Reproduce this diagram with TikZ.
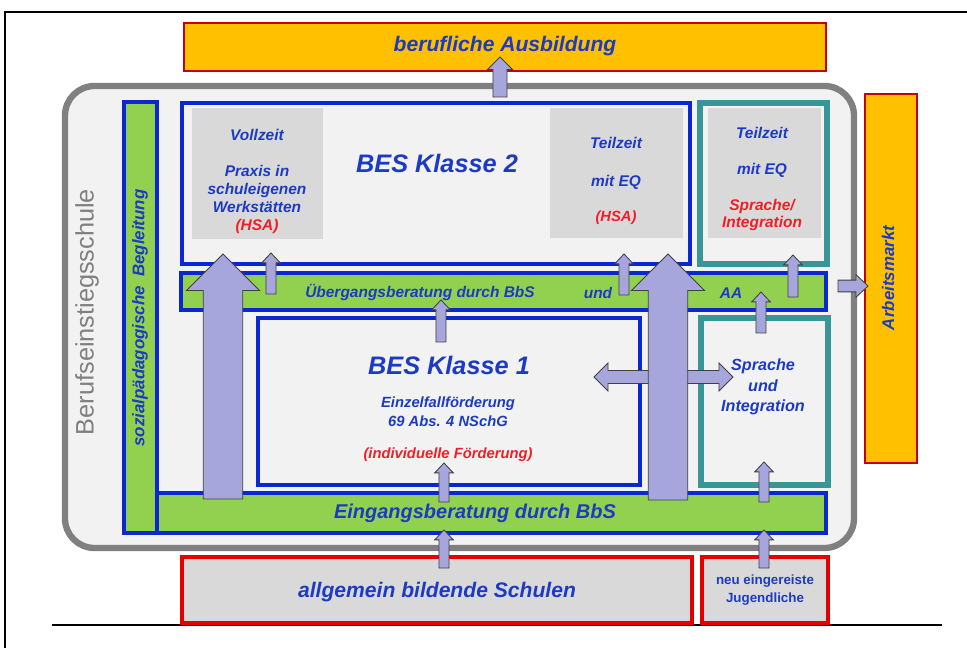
\documentclass[tikz,border=0pt]{standalone}
\usepackage{fontspec}
\setmainfont{Liberation Sans}
\usetikzlibrary{calc,fit}

\definecolor{txtblue}{RGB}{28,58,196}
\definecolor{boxblue}{RGB}{10,40,210}
\definecolor{bargreen}{RGB}{146,208,80}
\definecolor{boxorange}{RGB}{255,192,0}
\definecolor{txtred}{RGB}{240,30,40}
\definecolor{linered}{RGB}{228,0,0}
\definecolor{darkred}{RGB}{200,0,0}
\definecolor{boxteal}{RGB}{56,150,150}
\definecolor{boxgray}{RGB}{217,217,217}
\definecolor{framefill}{RGB}{242,242,242}
\definecolor{framegray}{RGB}{128,128,128}
\definecolor{arrowfill}{RGB}{166,166,220}

\newcommand{\fsz}[2]{\fontsize{#1}{#2}\selectfont}

% block arrows, drawn between two points
\tikzset{
  fat up/.style n args={3}{to path={let \p1=(\tikztostart), \p2=(\tikztotarget) in
    (\x1-#1,\y1) -- (\x1-#1,\y2-#3) -- (\x1-#2,\y2-#3) -- (\x1,\y2) --
    (\x1+#2,\y2-#3) -- (\x1+#1,\y2-#3) -- (\x1+#1,\y1) -- cycle}},
  fat right/.style n args={3}{to path={let \p1=(\tikztostart), \p2=(\tikztotarget) in
    (\x1,\y1-#1) -- (\x2-#3,\y1-#1) -- (\x2-#3,\y1-#2) -- (\x2,\y1) --
    (\x2-#3,\y1+#2) -- (\x2-#3,\y1+#1) -- (\x1,\y1+#1) -- cycle}},
  fat both/.style n args={3}{to path={let \p1=(\tikztostart), \p2=(\tikztotarget) in
    (\x1,\y1) -- (\x1+#3,\y1+#2) -- (\x1+#3,\y1+#1) -- (\x2-#3,\y1+#1) --
    (\x2-#3,\y1+#2) -- (\x2,\y1) -- (\x2-#3,\y1-#2) -- (\x2-#3,\y1-#1) --
    (\x1+#3,\y1-#1) -- (\x1+#3,\y1-#2) -- cycle}},
}

\begin{document}
\begin{tikzpicture}[x=0.025cm, y=-0.025cm,
  every node/.style={inner sep=0pt, outer sep=0pt, align=center, text=txtblue},
  school/.style={draw=framegray, line width=4.5pt, fill=framefill, rounded corners=21pt},
  bluebox/.style={draw=boxblue, line width=3pt, fill=framefill},
  tealbox/.style={draw=boxteal, line width=4pt, fill=framefill},
  graybox/.style={fill=boxgray},
  greenbar/.style={draw=boxblue, line width=2.4pt, fill=bargreen},
  orangebox/.style={draw=darkred, line width=2pt, fill=boxorange},
  redbox/.style={draw=linered, line width=3pt, fill=boxgray},
  title/.style={font=\fsz{18}{21}\bfseries\itshape},
  headline/.style={font=\fsz{15}{18}\bfseries\itshape},
  txt/.style={font=\fsz{11}{13}\bfseries\itshape},
  warn/.style={font=\fsz{10.5}{12.5}\bfseries\itshape, text=txtred},
  fatarrow/.style={fill=arrowfill, draw=black!75, line width=0.6pt},
  bigup/.style={fatarrow, fat up={14pt}{26pt}{26pt}},
  thinup/.style={fatarrow, fat up={3.6pt}{6.6pt}{7pt}},
]
\useasboundingbox (0,0) rectangle (967,648);

% page frame
\draw[line width=1.2pt] (5,648) -- (5,12) -- (967,12);
\draw[line width=1pt] (52,625) -- (942,625);

% lanes of the arrows
\coordinate (exit top)   at (500,0);
\coordinate (exit right) at (0,286);
\coordinate (cross)      at (0,377);
\coordinate (lane A)     at (223,0);
\coordinate (lane B)     at (271,0);
\coordinate (lane C)     at (624,0);
\coordinate (lane D)     at (668,0);
\coordinate (lane E)     at (441,0);
\coordinate (lane F)     at (444,0);
\coordinate (lane G)     at (764,0);
\coordinate (lane H)     at (761,0);
\coordinate (lane I)     at (793,0);

% outside boxes
\node[orangebox, fit={(184,23) (826,71)}] (ausb) {};
\node[orangebox, fit={(865,94) (917,463)}] (arbeit) {};
\node[school, fit={(65,86) (854,548)}] (school) {};

% green bars
\node[greenbar, fit={(124,102) (157,533)}] (sozial) {};
\node[greenbar, fit={(157,493) (826,533)}] (eing) {};

% BES Klasse 2 and the part time box
\node[bluebox, fit={(182,103) (690,264)}] (bes2) {};
\node[graybox, fit={(192,108) (323,239)}] (voll) {};
\node[graybox, fit={(550,108) (683,238)}] (teil1) {};
\node[tealbox, fit={(700,103) (827,264)}] (eqbox) {};
\node[graybox, fit={(708,108) (821,238)}] (teil2) {};

\node[greenbar, fit={(181,273) (826,310)}] (ueb) {};

% BES Klasse 1 and language box
\node[bluebox, fit={(258,318) (640,485)}] (bes1) {};
\node[tealbox, fit={(701,318) (828,485)}] (sui) {};

% schools below
\node[redbox, fit={(182,557) (692,623)}] (abs) {};
\node[redbox, fit={(702,557) (828,623)}] (neu) {};

% labels
\node[headline] (ausbtxt) at (505,46) {berufliche Ausbildung};
\node[font=\fsz{18}{21}, text=framegray, rotate=90] (schooltxt) at (87,312) {Berufseinstiegsschule};
\node[font=\fsz{12}{14}\bfseries\itshape, rotate=90] (sozialtxt) at (140,318) {sozialpädagogische\ \ Begleitung};
\node[font=\fsz{12}{14}\bfseries\itshape, rotate=90] (arbtxt) at (888,278) {Arbeitsmarkt};

\node[title] (bes2txt) at (437,163) {BES Klasse 2};
\node[txt] (volltxt) at (257,135) {Vollzeit};
\node[txt, font=\fsz{11}{12.8}\bfseries\itshape] (praxtxt) at (257,200)
  {Praxis in\\schuleigenen\\Werkstätten\\\textcolor{txtred}{(HSA)}};
\node[txt] (teil1txt) at (616,143) {Teilzeit};
\node[txt] (eq1txt) at (616,182) {mit EQ};
\node[warn] (hsatxt) at (616,218) {(HSA)};
\node[txt] (teil2txt) at (762,133) {Teilzeit};
\node[txt] (eq2txt) at (762,170) {mit EQ};
\node[warn, font=\fsz{11}{11.5}\bfseries\itshape] (sprtxt) at (762,215) {Sprache/\\Integration};

\node[txt] (uebtxt) at (420,293) {Übergangsberatung durch BbS};
\node[txt] (undtxt) at (598,293) {und};
\node[txt] (aatxt) at (731,293) {AA};

\node[title] (bes1txt) at (449,365) {BES Klasse 1};
\node[font=\fsz{10.5}{13.5}\bfseries\itshape] (einztxt) at (448,412) {Einzelfallförderung\\69 Abs. 4 NSchG};
\node[warn] (indivtxt) at (448,455) {(individuelle Förderung)};
\node[font=\fsz{11.5}{14.5}\bfseries\itshape] (suitxt) at (763,387) {Sprache\\und\\Integration};

\node[font=\fsz{14.2}{17}\bfseries\itshape] (eingtxt) at (475,513) {Eingangsberatung durch BbS};
\node[headline] (abstxt) at (437,592) {allgemein bildende Schulen};
\node[font=\fsz{9.5}{12.8}\bfseries] (neutxt) at (765,590) {neu eingereiste\\Jugendliche};

% arrows
\draw[fatarrow, fat up={5pt}{9pt}{9pt}] ($(exit top |- school.north)+(0,11)$) to ($(exit top |- ausb.south)+(0,-14)$);
\draw[fatarrow, fat right={4.2pt}{8pt}{8.5pt}] ($(exit right -| school.east)+(-16,0)$) to ($(exit right -| arbeit.west)+(3,0)$);
\draw[fatarrow, fat both={4.6pt}{10pt}{10pt}] ($(cross -| bes1.east)+(-46,0)$) to ($(cross -| sui.west)+(32,0)$);

\draw[bigup] ($(lane A |- eing.north)+(0,6)$) to ($(lane A |- bes2.south)+(0,-10)$);
\draw[bigup] ($(lane D |- eing.north)+(0,7)$) to ($(lane D |- bes2.south)+(0,-10)$);

\draw[thinup] ($(lane B |- ueb.center)+(0,2.5)$) to ($(lane B |- bes2.south)+(0,-11)$);
\draw[thinup] ($(lane C |- ueb.center)+(0,3.5)$) to ($(lane C |- bes2.south)+(0,-10)$);
\draw[thinup] ($(lane E |- bes1.north)+(0,24)$) to ($(lane E |- ueb.center)+(0,8.5)$);
\draw[thinup] ($(lane F |- eing.north)+(0,9)$) to ($(lane F |- bes1.south)+(0,-22)$);
\draw[thinup] ($(lane F |- abs.north)+(0,11)$) to ($(lane F |- eing.south)+(0,-3)$);
\draw[thinup] ($(lane G |- neu.north)+(0,11)$) to ($(lane G |- eing.south)+(0,-3)$);
\draw[thinup] ($(lane G |- eing.north)+(0,9)$) to ($(lane G |- sui.south)+(0,-23)$);
\draw[thinup] ($(lane H |- sui.north)+(0,15)$) to ($(lane H |- ueb.center)+(0,0.5)$);
\draw[thinup] ($(lane I |- ueb.center)+(0,5.5)$) to ($(lane I |- eqbox.south)+(0,-9)$);

\end{tikzpicture}
\end{document}
